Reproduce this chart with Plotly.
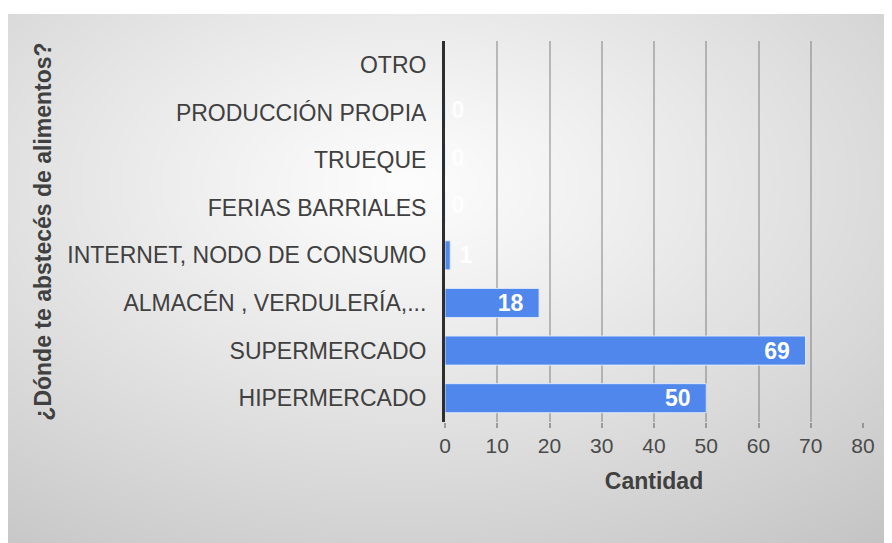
import zlib, struct, base64
import numpy as np
import plotly.graph_objects as go

# ---- data ----
categories = ["OTRO", "PRODUCCIÓN PROPIA", "TRUEQUE", "FERIAS BARRIALES",
              "INTERNET, NODO DE CONSUMO", "ALMACÉN , VERDULERÍA,...",
              "SUPERMERCADO", "HIPERMERCADO"]
values = [None, 0, 0, 0, 1, 18, 69, 50]
x_ticks = [0, 10, 20, 30, 40, 50, 60, 70, 80]
x_title = "Cantidad"
y_title = "¿Dónde te abstecés de alimentos?"

# ---- figure geometry (page body has an 8px margin) ----
W, H = 884, 535
L, R, T, B = 437, 29, 33, 121
PW, PH = W - L - R, H - T - B
BOX_X, BOX_Y = 0, 6
FONT = "Liberation Sans, Arial, sans-serif"


def png_gray(arr):
    h, w = arr.shape
    raw = b"".join(b"\x00" + arr[i].tobytes() for i in range(h))

    def chunk(t, d):
        c = struct.pack(">I", len(d)) + t + d
        return c + struct.pack(">I", zlib.crc32(t + d) & 0xFFFFFFFF)

    png = (b"\x89PNG\r\n\x1a\n"
           + chunk(b"IHDR", struct.pack(">IIBBBBB", w, h, 8, 0, 0, 0, 0))
           + chunk(b"IDAT", zlib.compress(raw, 9))
           + chunk(b"IEND", b""))
    return "data:image/png;base64," + base64.b64encode(png).decode()


# radial gray background
bw, bh = W - BOX_X, H - BOX_Y
yy, xx = np.mgrid[0:bh, 0:bw].astype(float)
cx, cy = 0.45 * bw, 0.32 * bh
r = np.sqrt(((xx - cx) / (bw / 2)) ** 2 + ((yy - cy) / (bh / 2)) ** 2)
bg = np.clip(253 - 31 * r ** 1.1, 0, 255).astype(np.uint8)
bg_uri = png_gray(bg)

label_font = dict(family=FONT, size=23, color="white", weight="bold")

fig = go.Figure()
fig.add_trace(go.Bar(
    y=categories, x=values, orientation="h",
    marker=dict(color="#4F87EC", line=dict(color="rgba(225,236,255,0.9)", width=1)),
    texttemplate="\u00a0%{x}\u00a0\u00a0",
    textposition="auto",
    insidetextanchor="end",
    constraintext="none",
    textfont=label_font,
    insidetextfont=label_font,
    outsidetextfont=label_font,
    cliponaxis=False,
    hoverinfo="skip",
))
# labels of the zero-length bars
zero_cats = [c for c, v in zip(categories, values) if v == 0]
zero_vals = [v for v in values if v == 0]
fig.add_trace(go.Scatter(
    y=zero_cats, x=zero_vals, mode="text",
    text=[f"\u00a0{v}" for v in zero_vals],
    textposition="middle right",
    textfont=dict(family=FONT, size=23, color="rgba(255,255,255,0.85)", weight="bold"),
    cliponaxis=False,
    hoverinfo="skip",
))

fig.update_layout(
    width=W, height=H,
    margin=dict(l=L, r=R, t=T, b=B, autoexpand=False),
    paper_bgcolor="white",
    plot_bgcolor="rgba(0,0,0,0)",
    bargap=0.39,
    showlegend=False,
    font=dict(family=FONT, color="#404040"),
    images=[dict(
        source=bg_uri, xref="paper", yref="paper",
        x=(BOX_X - L) / PW, y=(H - B - BOX_Y) / PH,
        sizex=bw / PW, sizey=bh / PH,
        xanchor="left", yanchor="top", sizing="stretch", layer="below",
    )],
    xaxis=dict(
        range=[0, 80], tickvals=x_ticks, ticktext=[str(v) for v in x_ticks],
        showgrid=True, gridcolor="rgba(110,110,110,0.42)", gridwidth=1.5,
        zeroline=False, showline=False,
        ticks="outside", ticklen=5, tickcolor="rgba(110,110,110,0.6)", tickwidth=1.5,
        ticklabelstandoff=0,
        tickfont=dict(size=21, color="#4a4a4a"),
        title=dict(text=x_title, font=dict(size=23, color="#404040", weight="bold"), standoff=16),
        fixedrange=True,
    ),
    yaxis=dict(
        categoryorder="array", categoryarray=categories[::-1],
        showline=True, linecolor="#2e2e2e", linewidth=3,
        showgrid=False, ticks="", ticklabelstandoff=11,
        tickfont=dict(size=23, color="#404040"),
        title=dict(text=y_title, font=dict(size=23, color="#404040", weight="bold"), standoff=10),
        fixedrange=True,
    ),
)

fig.write_html("out.html")
